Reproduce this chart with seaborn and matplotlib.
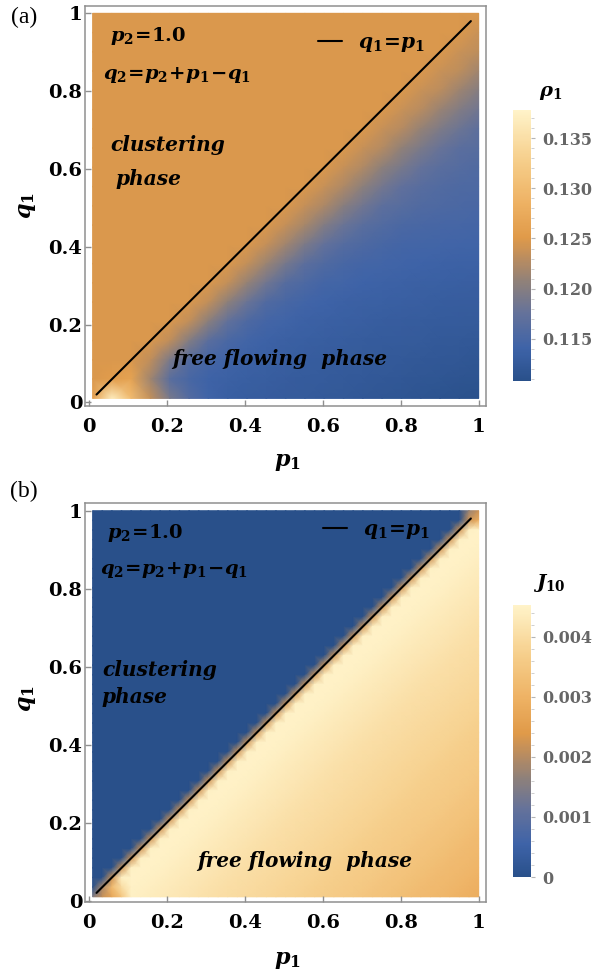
import numpy as np
import pandas as pd
import matplotlib
matplotlib.use("Agg")
import matplotlib.pyplot as plt
import seaborn as sns
from matplotlib.colors import LinearSegmentedColormap
from matplotlib.ticker import FixedLocator

# ---------------- data ----------------
# panel (a) sampling grid of p1 / q1
grid_a = [0.01, 0.0595, 0.109, 0.1585, 0.208, 0.2575, 0.307, 0.3565, 0.406, 0.4555,
          0.505, 0.5545, 0.604, 0.6535, 0.703, 0.7525, 0.802, 0.8515, 0.901, 0.9505, 1.0]
# panel (b) sampling grid of p1 / q1 (finer, sharp edge at q1 = p1)
grid_b = [0.01, 0.03475, 0.0595, 0.08425, 0.109, 0.13375, 0.1585, 0.18325, 0.208, 0.23275,
          0.2575, 0.28225, 0.307, 0.33175, 0.3565, 0.38125, 0.406, 0.43075, 0.4555, 0.48025,
          0.505, 0.52975, 0.5545, 0.57925, 0.604, 0.62875, 0.6535, 0.67825, 0.703, 0.72775,
          0.7525, 0.77725, 0.802, 0.82675, 0.8515, 0.87625, 0.901, 0.92575, 0.9505, 0.97525, 1.0]

axis_ticks = [0, 0.2, 0.4, 0.6, 0.8, 1]
axis_ticklabels = ["0", "0.2", "0.4", "0.6", "0.8", "1"]

diag_p1 = [0.02, 0.98]
diag_q1 = [0.02, 0.98]

rho1_ticks = [0.115, 0.120, 0.125, 0.130, 0.135]
rho1_ticklabels = ["0.115", "0.120", "0.125", "0.130", "0.135"]
rho1_range = [0.1108, 0.1378]
j10_ticks = [0, 0.001, 0.002, 0.003, 0.004]
j10_ticklabels = ["0", "0.001", "0.002", "0.003", "0.004"]
j10_range = [0.0, 0.00453]

A = 0.1248  # rho1 in the clustering phase (q1 >= p1)
# rows: q1 from 1.0 (top) down to 0.01 (bottom); columns: p1 grid
rho1 = [
    [A] * 21,
    [A] * 20 + [0.1238],
    [A] * 19 + [0.1238, 0.1232],
    [A] * 18 + [0.1238, 0.1232, 0.1216],
    [A] * 17 + [0.1238, 0.1231, 0.1214, 0.1199],
    [A] * 16 + [0.1238, 0.1229, 0.1212, 0.1197, 0.1184],
    [A] * 15 + [0.1237, 0.1228, 0.1210, 0.1194, 0.1181, 0.1169],
    [A] * 14 + [0.1237, 0.1227, 0.1208, 0.1192, 0.1178, 0.1167, 0.1163],
    [A] * 13 + [0.1237, 0.1225, 0.1206, 0.1190, 0.1176, 0.1166, 0.1161, 0.1157],
    [A] * 12 + [0.1237, 0.1224, 0.1204, 0.1187, 0.1172, 0.1164, 0.1159, 0.1155, 0.1154],
    [A] * 11 + [0.1236, 0.1222, 0.1201, 0.1184, 0.1169, 0.1163, 0.1158, 0.1155, 0.1153, 0.1151],
    [A] * 10 + [0.1236, 0.1219, 0.1197, 0.1179, 0.1165, 0.1159, 0.1153, 0.1151, 0.1149, 0.1148, 0.1147],
    [A] * 9 + [0.1236, 0.1216, 0.1193, 0.1174, 0.1161, 0.1155, 0.1150, 0.1147, 0.1145, 0.1144, 0.1143, 0.1142],
    [A] * 8 + [0.1235, 0.1213, 0.1189, 0.1168, 0.1157, 0.1150, 0.1147, 0.1144, 0.1142, 0.1141, 0.1139, 0.1138, 0.1138],
    [A] * 7 + [0.1235, 0.1210, 0.1184, 0.1162, 0.1154, 0.1147, 0.1144, 0.1141, 0.1139, 0.1138, 0.1136, 0.1135, 0.1134, 0.1133],
    [A] * 6 + [0.1234, 0.1206, 0.1179, 0.1158, 0.1150, 0.1144, 0.1141, 0.1138, 0.1136, 0.1135, 0.1134, 0.1133, 0.1131, 0.1130, 0.1130],
    [A] * 5 + [0.1234, 0.1203, 0.1173, 0.1155, 0.1146, 0.1142, 0.1138, 0.1136, 0.1134, 0.1133, 0.1131, 0.1130, 0.1129, 0.1128, 0.1127, 0.1126],
    [A] * 4 + [0.1233, 0.1198, 0.1167, 0.1152, 0.1144, 0.1139, 0.1136, 0.1134, 0.1132, 0.1131, 0.1129, 0.1128, 0.1127, 0.1126, 0.1124, 0.1123, 0.1122],
    [A] * 3 + [0.1233, 0.1192, 0.1160, 0.1148, 0.1142, 0.1137, 0.1135, 0.1133, 0.1131, 0.1129, 0.1128, 0.1126, 0.1125, 0.1124, 0.1122, 0.1121, 0.1120, 0.1118],
    [A, 0.1255, 0.1265, 0.1215, 0.1165, 0.1150, 0.1140, 0.1137, 0.1134, 0.1132, 0.1130, 0.1128, 0.1127, 0.1125, 0.1124, 0.1122, 0.1121, 0.1119, 0.1118, 0.1116, 0.1115],
    [0.1260, 0.1370, 0.1300, 0.1235, 0.1190, 0.1160, 0.1142, 0.1134, 0.1131, 0.1130, 0.1128, 0.1126, 0.1124, 0.1123, 0.1121, 0.1119, 0.1118, 0.1116, 0.1114, 0.1112, 0.1111],
]

# J10: zero in the clustering phase; below q1 = p1 it is read as a profile
# against the distance p1 - q1 (one entry per grid step of panel b)
j10_cluster = 0.0
j10_on_line = 0.00222
j10_profile = [0.00445, 0.00450, 0.00448, 0.00445, 0.00441, 0.00437, 0.00433, 0.00428,
               0.00423, 0.00418, 0.00413, 0.00409, 0.00405, 0.00402, 0.00399, 0.00396,
               0.00392, 0.00389, 0.00385, 0.00381, 0.00377, 0.00373, 0.00369, 0.00366,
               0.00362, 0.00358, 0.00354, 0.00350, 0.00345, 0.00340, 0.00335, 0.00330,
               0.00325, 0.00320, 0.00315, 0.00310, 0.00305, 0.00300, 0.00295, 0.00290]
# local spots: (q1 index from bottom, p1 index, value)
j10_spots = [(0, 0, 0.00150), (0, 1, 0.00215), (0, 2, 0.00270), (0, 3, 0.00350),
             (1, 1, 0.00190), (1, 2, 0.00320), (1, 3, 0.00400),
             (40, 40, 0.00220), (40, 39, 0.00170), (39, 40, 0.00290)]

nb = len(grid_b)
j10_bottom_up = [[j10_cluster] * j + [j10_on_line] + j10_profile[:nb - 1 - j] for j in range(nb)]
for jq, ip, val in j10_spots:
    j10_bottom_up[jq][ip] = val
j10 = j10_bottom_up[::-1]

# ---------------- style ----------------
sns.set_theme(style="white")
plt.rcParams["font.family"] = ["DejaVu Serif"]
plt.rcParams["font.weight"] = "bold"
plt.rcParams["text.color"] = "black"
plt.rcParams["mathtext.fontset"] = "custom"
plt.rcParams["mathtext.rm"] = "DejaVu Serif:bold"
plt.rcParams["mathtext.it"] = "DejaVu Serif:italic:bold"
plt.rcParams["mathtext.bf"] = "DejaVu Serif:bold"
plt.rcParams["mathtext.sf"] = "DejaVu Serif:bold"

cmap = LinearSegmentedColormap.from_list(
    "mma_sunset",
    [(0.00, "#29508a"), (0.12, "#3e63a8"), (0.25, "#65729a"), (0.36, "#8d807b"),
     (0.45, "#b98c60"), (0.53, "#e09a49"), (0.66, "#eeb264"), (0.82, "#f6cf8c"),
     (1.00, "#fff3c9")])

FRAME = "#8f8f8f"
XLIM = (-0.0095, 1.018)

fig = plt.figure(figsize=(6.01, 9.75), dpi=100)


def panel(values, grid, vrange, ax_rect, cax_rect, ylim, cticks, cticklabels, cminor,
          ctitle, ctitle_xy, txt, legend_xy):
    ax = fig.add_axes(ax_rect)
    cax = fig.add_axes(cax_rect)
    df = pd.DataFrame(values, index=grid[::-1], columns=grid)
    sns.heatmap(df, ax=ax, cmap=cmap, vmin=vrange[0], vmax=vrange[1], cbar_ax=cax,
                shading="gouraud", xticklabels=False, yticklabels=False)
    n = len(grid)
    step = grid[1] - grid[0]
    ax.set_xlim((XLIM[0] - grid[0]) / step, (XLIM[1] - grid[0]) / step)
    ax.set_ylim(n - 1 - (ylim[0] - grid[0]) / step, n - 1 - (ylim[1] - grid[0]) / step)
    ax.set_axis_off()

    ax2 = fig.add_axes(ax_rect)
    ax2.set_facecolor("none")
    sns.lineplot(x=diag_p1, y=diag_q1, ax=ax2, color="black", linewidth=1.5,
                 label=r"$q_1\!=\!p_1$")
    ax2.set_xlim(XLIM)
    ax2.set_ylim(ylim)
    ax2.set_xticks(axis_ticks)
    ax2.set_xticklabels(axis_ticklabels)
    ax2.set_yticks(axis_ticks)
    ax2.set_yticklabels(axis_ticklabels)
    ax2.set_xlabel("")
    ax2.set_ylabel("")
    for s in ax2.spines.values():
        s.set_visible(True)
        s.set_color(FRAME)
        s.set_linewidth(1.1)
    ax2.tick_params(axis="x", direction="in", length=4, width=1, color=FRAME,
                    labelsize=14, pad=9, bottom=True, top=False, labelcolor="black")
    ax2.tick_params(axis="y", direction="in", length=4, width=1, color=FRAME,
                    labelsize=14, pad=2, left=True, right=False, labelcolor="black")
    leg = ax2.legend(loc="center left", bbox_to_anchor=legend_xy, frameon=False,
                     handlelength=1.2, handletextpad=0.8, borderpad=0, borderaxespad=0,
                     fontsize=14.5)
    for line in leg.get_lines():
        line.set_linewidth(1.5)
    for t in leg.get_texts():
        t.set_color("black")

    it = dict(fontsize=14.5, fontweight="bold", style="italic", va="center", ha="left",
              transform=ax2.transAxes, color="black")
    mt = dict(fontsize=14, va="center", ha="left", transform=ax2.transAxes, color="black")
    ax2.text(txt["p2"][0], txt["p2"][1], r"$p_2\!=\!1.0$", **mt)
    ax2.text(txt["q2"][0], txt["q2"][1], r"$q_2\!=\!p_2\!+\!p_1\!-\!q_1$", **mt)
    ax2.text(txt["cl"][0], txt["cl"][1], "clustering", **it)
    ax2.text(txt["ph"][0], txt["ph"][1], "phase", **it)
    ax2.text(txt["ff"][0], txt["ff"][1], "free flowing  phase", **it)

    cb = ax.collections[0].colorbar
    cb.outline.set_visible(False)
    cb.set_ticks(cticks)
    cb.set_ticklabels(cticklabels)
    cax.yaxis.set_minor_locator(FixedLocator(cminor))
    cax.tick_params(which="major", length=3, width=0.8, color="#b5b5b5",
                    labelcolor="#666666", labelsize=11.5, pad=5)
    cax.tick_params(which="minor", length=2, width=0.6, color="#c8c8c8")
    for t in cax.get_yticklabels():
        t.set_fontweight("bold")
    fig.text(ctitle_xy[0], ctitle_xy[1], ctitle, fontsize=14, ha="center", va="center")


panel(rho1, grid_a, rho1_range,
      [85 / 601, 1 - 405.5 / 975, 400.7 / 601, 399.5 / 975],
      [513 / 601, 1 - 381 / 975, 18 / 601, 271 / 975],
      (-0.0082, 1.0188), rho1_ticks, rho1_ticklabels,
      [0.111, 0.112, 0.113, 0.114, 0.116, 0.117, 0.118, 0.119, 0.121, 0.122, 0.123,
       0.124, 0.126, 0.127, 0.128, 0.129, 0.131, 0.132, 0.133, 0.134, 0.136, 0.137],
      r"$\rho_1$", (551 / 601, 1 - 93 / 975),
      {"p2": (0.062, 0.925), "q2": (0.045, 0.828), "cl": (0.062, 0.651),
       "ph": (0.075, 0.566), "ff": (0.217, 0.1165)},
      (0.581, 0.908))

panel(j10, grid_b, j10_range,
      [85 / 601, 1 - 902 / 975, 400.7 / 601, 399.3 / 975],
      [513 / 601, 1 - 877 / 975, 18 / 601, 272 / 975],
      (-0.0033, 1.0205), j10_ticks, j10_ticklabels,
      [0.0002, 0.0004, 0.0006, 0.0008, 0.0012, 0.0014, 0.0016, 0.0018, 0.0022, 0.0024,
       0.0026, 0.0028, 0.0032, 0.0034, 0.0036, 0.0038, 0.0042, 0.0044],
      r"$J_{10}$", (549 / 601, 1 - 583 / 975),
      {"p2": (0.055, 0.924), "q2": (0.037, 0.831), "cl": (0.042, 0.581),
       "ph": (0.040, 0.513), "ff": (0.280, 0.103)},
      (0.594, 0.932))

# axis labels and panel tags
for yc in (462, 960):
    fig.text(287 / 601, 1 - yc / 975, r"$p_1$", fontsize=16, ha="center", va="center")
for yc in (206, 699):
    fig.text(27 / 601, 1 - yc / 975, r"$q_1$", fontsize=16, ha="center", va="center",
             rotation=90)
fig.text(24 / 601, 1 - 17 / 975, "(a)", fontsize=17, fontweight="normal",
         family=["Liberation Serif"], ha="center", va="center")
fig.text(24 / 601, 1 - 491 / 975, "(b)", fontsize=17, fontweight="normal",
         family=["Liberation Serif"], ha="center", va="center")

fig.savefig("out.png", dpi=100)
